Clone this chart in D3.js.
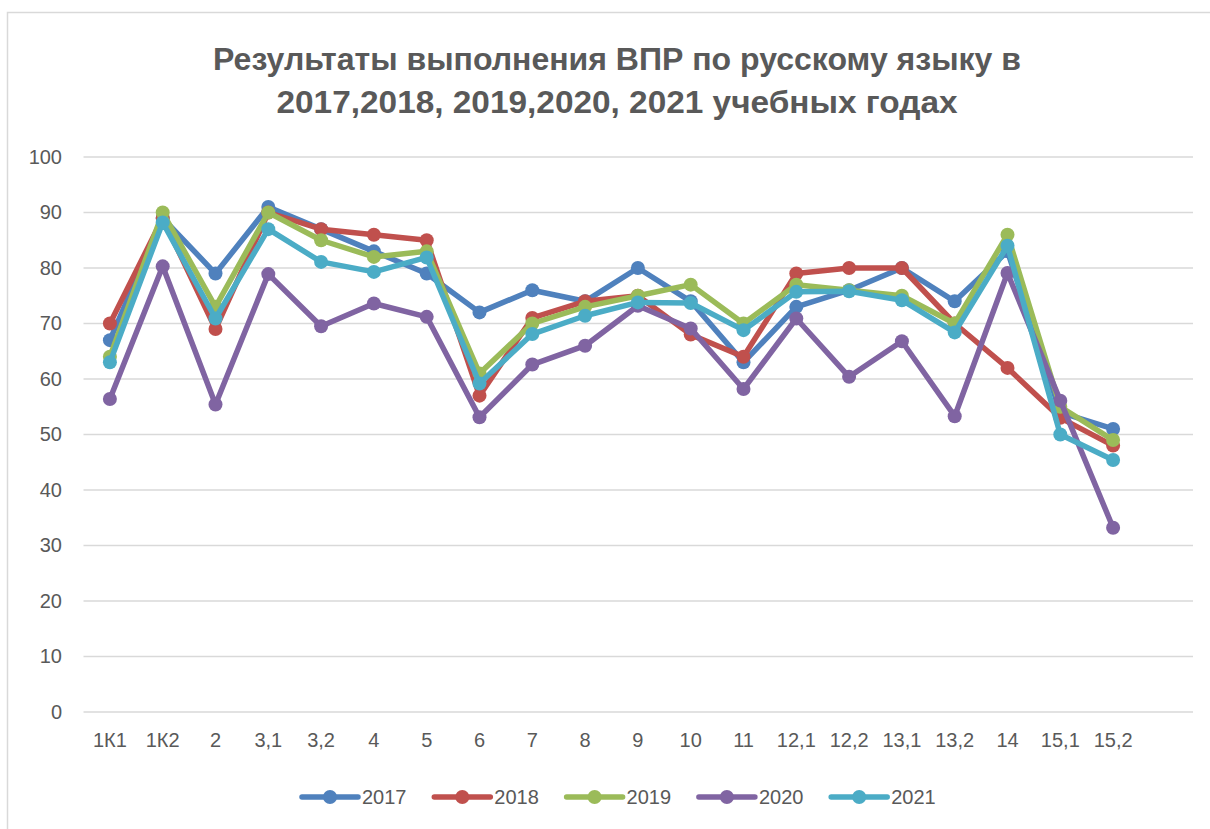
<!DOCTYPE html>
<html>
<head>
<meta charset="utf-8">
<script src="https://cdn.jsdelivr.net/npm/d3@7"></script>
<style>
  html, body { margin: 0; padding: 0; background: #fff; }
  svg { display: block; }
  text { font-family: "Liberation Sans", Arial, sans-serif; fill: #595959; }
</style>
</head>
<body>
<svg id="chart" width="1210" height="829"></svg>
<script>
const titleLines = ["Результаты выполнения ВПР по русскому языку в", "2017,2018, 2019,2020, 2021 учебных годах"];
const categories = ["1К1","1К2","2","3,1","3,2","4","5","6","7","8","9","10","11","12,1","12,2","13,1","13,2","14","15,1","15,2"];
const yTicks = [0,10,20,30,40,50,60,70,80,90,100];
const seriesNames = ["2017","2018","2019","2020","2021"];
const seriesColors = ["#4F81BD","#C0504D","#9BBB59","#8064A2","#4BACC6"];
const v2017 = [67,89,79,91,87,83,79,72,76,74,80,74,63,73,76,80,74,83,54,51];
const v2018 = [70,89,69,90,87,86,85,57,71,74,75,68,64,79,80,80,70,62,53,48];
const v2019 = [64,90,73,90,85,82,83,61,70,73,75,77,70,77,76,75,70,86,55,49];
const v2020 = [56.4,80.3,55.4,78.9,69.5,73.6,71.2,53.1,62.6,66,73.2,69.1,58.2,70.9,60.4,66.8,53.3,79.1,56.1,33.2];
const v2021 = [63,88.2,70.9,87,81.1,79.3,81.9,59.2,68.1,71.4,73.8,73.7,68.8,75.7,75.8,74.2,68.4,84,50,45.4];
const seriesValues = [v2017, v2018, v2019, v2020, v2021];

const svg = d3.select("#chart");

// chart frame (top and left edges visible)
svg.append("rect").attr("x", 7.5).attr("y", 12.5).attr("width", 1250).attr("height", 900)
  .attr("fill", "none").attr("stroke", "#D9D9D9").attr("stroke-width", 1.5);

// title
const tLens = [808, 681];
const tY = [70, 113];
titleLines.forEach((t, i) => {
  svg.append("text").attr("x", 617).attr("y", tY[i]).attr("text-anchor", "middle")
    .attr("font-size", 32).attr("font-weight", "bold")
    .attr("textLength", tLens[i]).attr("lengthAdjust", "spacingAndGlyphs")
    .text(t);
});

const plotLeft = 83.5, step = 52.8, plotRight = 1193;
const x = d3.scaleBand().domain(categories).range([plotLeft, plotLeft + step * categories.length]).padding(0);
const y = d3.scaleLinear().domain([0, 100]).range([712, 157]);
const cx = c => x(c) + x.bandwidth() / 2;

// gridlines
svg.append("g").selectAll("line").data(yTicks).join("line")
  .attr("x1", plotLeft).attr("x2", plotRight)
  .attr("y1", d => y(d)).attr("y2", d => y(d))
  .attr("stroke", "#D9D9D9").attr("stroke-width", 1.5);

// y axis labels
const yAxis = d3.axisLeft(y).tickValues(yTicks).tickSize(0).tickPadding(0);
const gy = svg.append("g").attr("transform", "translate(62,0)").call(yAxis);
gy.select(".domain").remove();
gy.selectAll("text").attr("font-size", 20).attr("fill", "#595959")
  .attr("font-family", "Liberation Sans, Arial, sans-serif");

// x axis labels
const xAxis = d3.axisBottom(x).tickSize(0).tickPadding(0);
const gx = svg.append("g").attr("transform", "translate(0,733)").call(xAxis);
gx.select(".domain").remove();
gx.selectAll("text").attr("font-size", 20).attr("fill", "#595959").attr("dy", "0.71em")
  .attr("font-family", "Liberation Sans, Arial, sans-serif");

// series
const line = d3.line().x((d, i) => cx(categories[i])).y(d => y(d));
seriesValues.forEach((vals, si) => {
  const g = svg.append("g");
  g.append("path").datum(vals).attr("d", line).attr("fill", "none")
    .attr("stroke", seriesColors[si]).attr("stroke-width", 5.5)
    .attr("stroke-linejoin", "round").attr("stroke-linecap", "round");
  g.selectAll("circle").data(vals).join("circle")
    .attr("cx", (d, i) => cx(categories[i])).attr("cy", d => y(d))
    .attr("r", 7).attr("fill", seriesColors[si]);
});

// legend
const legX = d3.scaleLinear().domain([0, 1]).range([302, 434.3]);
const legY = 797;
seriesNames.forEach((n, i) => {
  const x0 = legX(i);
  const g = svg.append("g");
  g.append("line").attr("x1", x0).attr("x2", x0 + 56).attr("y1", legY).attr("y2", legY)
    .attr("stroke", seriesColors[i]).attr("stroke-width", 5.5).attr("stroke-linecap", "round");
  g.append("circle").attr("cx", x0 + 28).attr("cy", legY).attr("r", 7).attr("fill", seriesColors[i]);
  g.append("text").attr("x", x0 + 60).attr("y", legY).attr("dy", "0.36em")
    .attr("font-size", 20).text(n);
});
</script>
</body>
</html>
